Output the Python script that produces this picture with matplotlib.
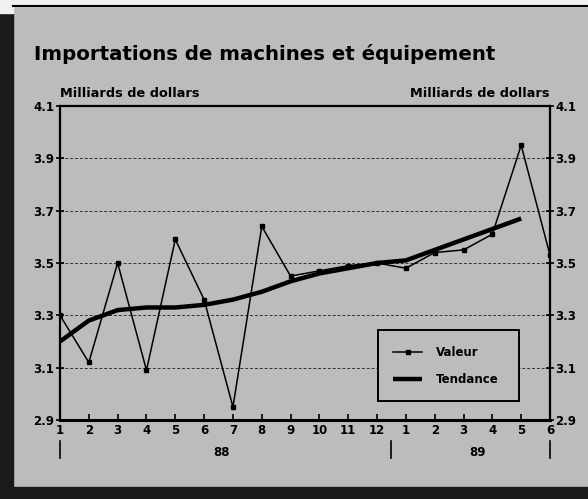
"""
Importations de machines et equipement, 1988-1989
"""
import matplotlib
matplotlib.use('Agg')
import matplotlib.pyplot as plt
from matplotlib.patches import Rectangle
import numpy as np

# Monthly labels (Jan 88 .. Jun 89)
months = ['1', '2', '3', '4', '5', '6', '7', '8', '9', '10', '11', '12',
          '1', '2', '3', '4', '5', '6']
years = ['88', '89']

# Values in billions of dollars
valeur = [3.30, 3.12, 3.50, 3.09, 3.59, 3.36, 2.95, 3.64, 3.45, 3.47, 3.49, 3.50,
          3.48, 3.54, 3.55, 3.61, 3.95, 3.53]
# Trend stops one month earlier
tendance = [3.20, 3.28, 3.32, 3.33, 3.33, 3.34, 3.36, 3.39, 3.43, 3.46, 3.48, 3.50,
            3.51, 3.55, 3.59, 3.63, 3.67]

yticks = [2.9, 3.1, 3.3, 3.5, 3.7, 3.9, 4.1]

bg = '#bcbcbc'
plt.rcParams['font.family'] = ['DejaVu Sans']

fig = plt.figure(figsize=(5.88, 4.99), dpi=100)
fig.patch.set_facecolor(bg)

# outer frame: dark left and bottom bands, thin top line
fig.patches.append(Rectangle((0, 0), 13 / 588, 486 / 499, transform=fig.transFigure,
                             color='#1a1a1a', zorder=0))
fig.patches.append(Rectangle((0, 0), 1, 12 / 499, transform=fig.transFigure,
                             color='#1a1a1a', zorder=0))
fig.patches.append(Rectangle((0, 486 / 499), 13 / 588, 13 / 499, transform=fig.transFigure,
                             color='#f0f0f0', zorder=0))
fig.patches.append(Rectangle((13 / 588, 493 / 499), 1, 6 / 499, transform=fig.transFigure,
                             color='#f0f0f0', zorder=0))
fig.lines.append(plt.Line2D([13 / 588, 1], [493 / 499, 493 / 499], transform=fig.transFigure,
                            color='black', lw=1.5))

ax = fig.add_axes([60 / 588, 1 - 420 / 499, 490 / 588, 314 / 499])
ax.set_facecolor(bg)

x = np.arange(len(months))
ax.plot(x, valeur, color='black', lw=1.1, marker='s', ms=2.5, label='Valeur', zorder=3)
ax.plot(np.arange(len(tendance)), tendance, color='black', lw=3.2,
        solid_capstyle='butt', label='Tendance', zorder=4)

ax.set_xlim(0, len(months) - 1)
ax.set_ylim(2.9, 4.1)
ax.set_yticks(yticks)
ax.set_yticklabels([f'{v:.1f}' for v in yticks], fontsize=8.5, fontweight='bold')
ax.set_xticks(x)
ax.set_xticklabels(months, fontsize=8.5, fontweight='bold')
ax.tick_params(axis='x', direction='in', length=4, width=1.2, pad=3)
ax.tick_params(axis='y', direction='inout', length=6, width=1.2, pad=1,
               right=True, labelright=True)

for g in yticks[1:-1]:
    ax.axhline(g, color='#333333', lw=0.7, ls=(0, (3, 2)), zorder=1)

for s in ax.spines.values():
    s.set_linewidth(1.6)
ax.spines['bottom'].set_linewidth(2.2)

# year separators and labels below the month ticks
tr = ax.get_xaxis_transform()
for xs in [0, 11.5, len(months) - 1]:
    ax.plot([xs, xs], [-0.067, -0.121], transform=tr, color='black', lw=1.2, clip_on=False)
for xs, yr in zip([5.6, 14.5], years):
    ax.text(xs, -0.102, yr, transform=tr, ha='center', va='center',
            fontsize=8.5, fontweight='bold')

# unit labels
ax.text(0.0, 1.029, 'Milliards de dollars', transform=ax.transAxes, ha='left', va='baseline',
        fontsize=9.3, fontweight='bold')
ax.text(1.0, 1.029, 'Milliards de dollars', transform=ax.transAxes, ha='right', va='baseline',
        fontsize=9.3, fontweight='bold')

fig.text(34 / 588, 1 - 60 / 499, 'Importations de machines et équipement',
         ha='left', va='baseline', fontsize=14.2, fontweight='bold')

leg = ax.legend(loc='lower left', bbox_to_anchor=(0.637, 0.041, 0.312, 0.217),
                mode='expand', frameon=True, fancybox=False,
                handlelength=2.4, handletextpad=1.2, borderpad=1.3, labelspacing=1.2,
                prop={'weight': 'bold', 'size': 8.5})
leg.get_frame().set_edgecolor('black')
leg.get_frame().set_linewidth(1.4)
leg.get_frame().set_facecolor(bg)
leg.get_frame().set_alpha(1)

plt.savefig('out.png', dpi=100, facecolor=fig.get_facecolor())
plt.close()
